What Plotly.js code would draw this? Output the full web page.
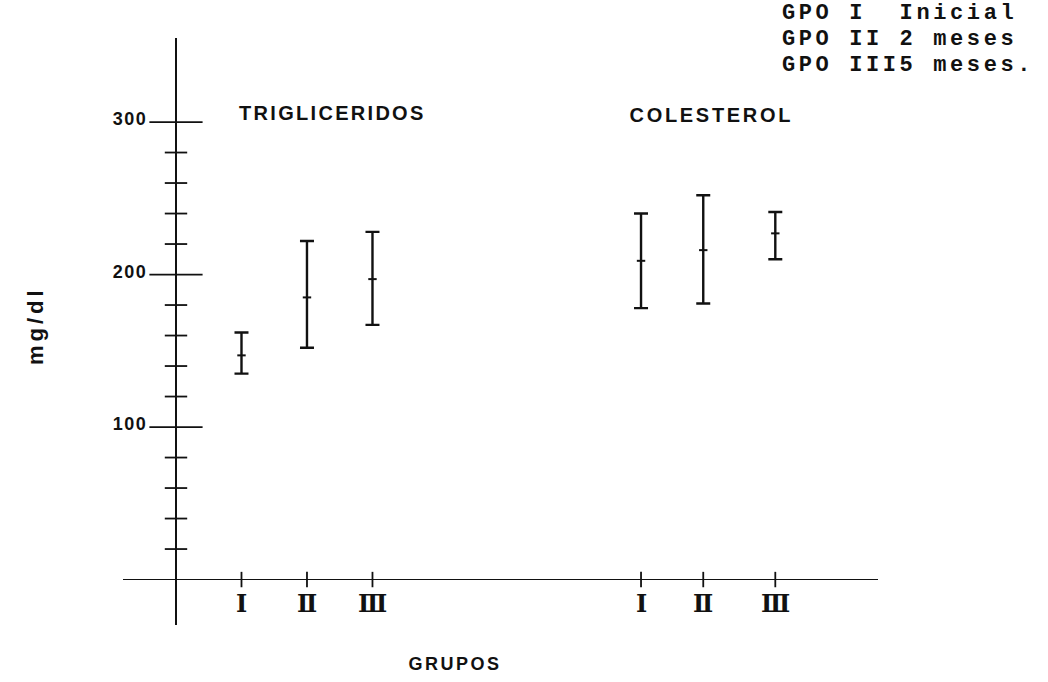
<!DOCTYPE html>
<html><head><meta charset="utf-8">
<script src="https://cdn.plot.ly/plotly-3.0.1.min.js"></script>
<style>html,body{margin:0;padding:0;background:#fff}</style>
</head><body><div id="chart" style="width:1048px;height:682px"></div>
<script>
// ---- data ----
const groupLabels = ['Ⅰ', 'Ⅱ', 'Ⅲ'];
const trigX = [1, 2, 3];
const trigTop = [162, 222, 228];
const trigMean = [147, 185, 197];
const trigBottom = [135, 152, 167];
const colX = [7.1, 8.05, 9.15];
const colTop = [240, 252, 241];
const colMean = [209, 216, 227];
const colBottom = [178, 181, 210];
const majorTicks = [100, 200, 300];
const minorTicks = [20, 40, 60, 80, 120, 140, 160, 180, 220, 240, 260, 280];
const legendLines = ['GPO I\u00a0 Inicial', 'GPO II 2 meses', 'GPO III5 meses.'];
const titleTrig = 'TRIGLICERIDOS';
const titleCol = 'COLESTEROL';
const xTitle = 'GRUPOS';
const yTitle = 'mg/dl';

const ink = '#111';

function errTrace(x, top, mean, bottom) {
  return {
    type: 'scatter', mode: 'markers', x: x, y: mean, cliponaxis: false, hoverinfo: 'skip',
    marker: { symbol: 'line-ew', size: 6, color: ink, line: { width: 2, color: ink } },
    error_y: {
      type: 'data', symmetric: false,
      array: top.map((t, i) => t - mean[i]),
      arrayminus: mean.map((m, i) => m - bottom[i]),
      color: ink, thickness: 2.4, width: 7
    }
  };
}

const traces = [
  errTrace(trigX, trigTop, trigMean, trigBottom),
  errTrace(colX, colTop, colMean, colBottom),
  { type: 'scatter', mode: 'markers', x: majorTicks.map(() => 0), y: majorTicks, cliponaxis: false, hoverinfo: 'skip',
    marker: { symbol: 'line-ew', size: 38, color: ink, line: { width: 1.8, color: ink } } },
  { type: 'scatter', mode: 'markers', x: minorTicks.map(() => 0), y: minorTicks, cliponaxis: false, hoverinfo: 'skip',
    marker: { symbol: 'line-ew', size: 16, color: ink, line: { width: 1.8, color: ink } } },
  { type: 'scatter', mode: 'markers', x: trigX.concat(colX), y: trigX.concat(colX).map(() => 0), cliponaxis: false, hoverinfo: 'skip',
    marker: { symbol: 'line-ns', size: 11, color: ink, line: { width: 1.8, color: ink } } }
];

const annotations = [];
const spacing = [];
function addAnn(a, ls) { annotations.push(a); spacing.push(ls || 0); }

majorTicks.forEach(v => addAnn({
  x: 0, y: v, xref: 'x', yref: 'y', text: String(v), showarrow: false,
  xanchor: 'right', yanchor: 'middle', xshift: -29, yshift: 3,
  font: { family: 'Liberation Sans, Arial', size: 18, weight: 'bold', color: ink }
}, 1.5));

trigX.forEach((x, i) => addAnn({
  x: x, y: 0, xref: 'x', yref: 'y', text: groupLabels[i], showarrow: false,
  yanchor: 'middle', yshift: -24, font: { family: 'DejaVu Serif', size: 24, weight: 'bold', color: ink }
}));
colX.forEach((x, i) => addAnn({
  x: x, y: 0, xref: 'x', yref: 'y', text: groupLabels[i], showarrow: false,
  yanchor: 'middle', yshift: -24, font: { family: 'DejaVu Serif', size: 24, weight: 'bold', color: ink }
}));

addAnn({ x: 0.2781, y: 0.8722, xref: 'paper', yref: 'paper', text: titleTrig, showarrow: false,
  xanchor: 'center', yanchor: 'middle', font: { family: 'Liberation Sans, Arial', size: 20, weight: 'bold', color: ink } }, 2.3);
addAnn({ x: 0.7801, y: 0.8688, xref: 'paper', yref: 'paper', text: titleCol, showarrow: false,
  xanchor: 'center', yanchor: 'middle', font: { family: 'Liberation Sans, Arial', size: 20, weight: 'bold', color: ink } }, 2.7);
addAnn({ x: 0.4397, y: -0.0664, xref: 'paper', yref: 'paper', text: xTitle, showarrow: false,
  xanchor: 'center', yanchor: 'middle', font: { family: 'Liberation Sans, Arial', size: 18, weight: 'bold', color: ink } }, 2.5);
addAnn({ x: -0.1166, y: 0.511, xref: 'paper', yref: 'paper', text: yTitle, showarrow: false, textangle: -90,
  xanchor: 'center', yanchor: 'middle', font: { family: 'Liberation Sans, Arial', size: 22, weight: 'bold', color: ink } }, 4);

const legendY = [1.0409, 0.9966, 0.9523];
legendLines.forEach((t, i) => addAnn({
  x: 0.870, y: legendY[i], xref: 'paper', yref: 'paper', text: t, showarrow: false,
  xanchor: 'left', yanchor: 'middle', align: 'left',
  font: { family: 'Liberation Mono, Courier New, monospace', size: 22, weight: 'bold', color: ink }
}, 3.6));

const layout = {
  width: 1048, height: 682,
  margin: { l: 123, r: 170, t: 38, b: 57, pad: 0 },
  paper_bgcolor: '#fff', plot_bgcolor: '#fff',
  showlegend: false,
  xaxis: { range: [-0.809, 10.718], showgrid: false, zeroline: true, zerolinecolor: ink, zerolinewidth: 2.4,
    showticklabels: false, ticks: '', showline: false, fixedrange: true },
  yaxis: { range: [-29.8, 355.1], showgrid: false, zeroline: true, zerolinecolor: ink, zerolinewidth: 1.6,
    showticklabels: false, ticks: '', showline: false, fixedrange: true },
  annotations: annotations
};

Plotly.newPlot('chart', traces, layout, { staticPlot: true, displayModeBar: false }).then(gd => {
  gd.querySelectorAll('g.annotation').forEach(g => {
    const i = +g.getAttribute('data-index');
    const ls = spacing[i];
    if (ls) g.querySelectorAll('text').forEach(t => { t.style.letterSpacing = ls + 'px'; });
  });
});
</script></body></html>
